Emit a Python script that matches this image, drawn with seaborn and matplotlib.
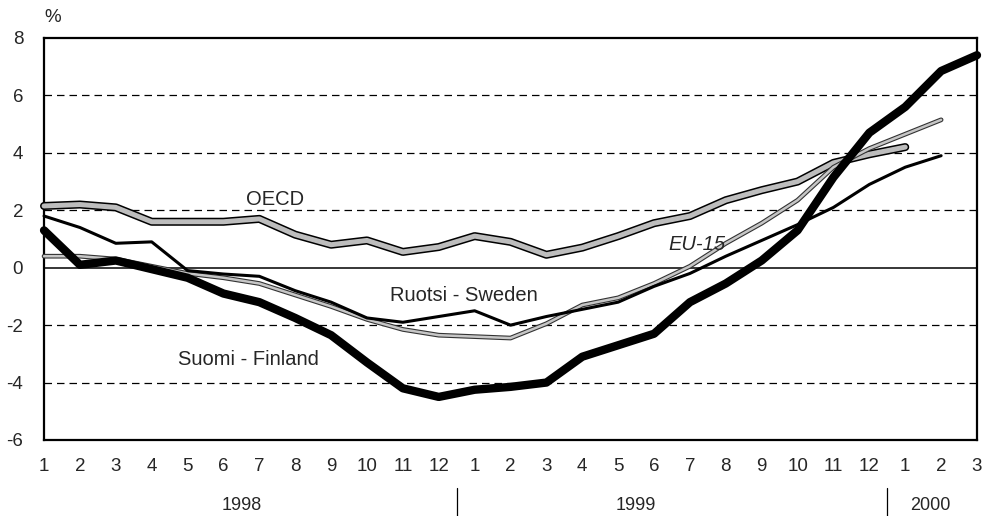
import numpy as np
import pandas as pd
import matplotlib
matplotlib.use("Agg")
import matplotlib.pyplot as plt
import matplotlib.patheffects as pe
import matplotlib.transforms as mtransforms
import seaborn as sns

# monthly data, 1998/1 .. 2000/3
months = [str(m) for m in range(1, 13)] * 2 + ["1", "2", "3"]
years = ["1998", "1999", "2000"]

oecd = [2.15, 2.2, 2.1, 1.6, 1.6, 1.6, 1.7, 1.15, 0.8, 0.95, 0.55, 0.72,
        1.1, 0.9, 0.45, 0.7, 1.1, 1.55, 1.8, 2.35, 2.7, 3.0, 3.65, 3.95,
        4.2, np.nan, np.nan]
eu15 = [0.4, 0.4, 0.3, 0.05, -0.2, -0.35, -0.55, -0.95, -1.35, -1.8, -2.15, -2.35,
        -2.4, -2.45, -1.95, -1.3, -1.05, -0.55, 0.05, 0.85, 1.55, 2.35, 3.5, 4.15,
        4.65, 5.15, np.nan]
sweden = [1.8, 1.4, 0.85, 0.9, -0.1, -0.22, -0.3, -0.8, -1.2, -1.75, -1.9, -1.7,
          -1.5, -2.0, -1.7, -1.45, -1.2, -0.65, -0.2, 0.4, 0.95, 1.5, 2.1, 2.9,
          3.5, 3.9, np.nan]
finland = [1.3, 0.1, 0.25, -0.05, -0.35, -0.9, -1.2, -1.75, -2.35, -3.3, -4.2, -4.5,
           -4.25, -4.15, -4.0, -3.1, -2.7, -2.3, -1.2, -0.55, 0.25, 1.3, 3.15, 4.7,
           5.6, 6.85, 7.4]

df = pd.DataFrame({"t": np.arange(len(months)), "OECD": oecd, "EU-15": eu15,
                   "Ruotsi - Sweden": sweden, "Suomi - Finland": finland})

sns.set_style("white")
plt.rcParams["font.family"] = ["Liberation Sans", "DejaVu Sans"]
plt.rcParams["axes.unicode_minus"] = False

fig = plt.figure(figsize=(9.83, 5.16), dpi=100)
ax = fig.add_axes([0.0448, 0.1473, 0.9491, 0.7791])

# grid lines and zero line
for g in [-4, -2, 2, 4, 6]:
    ax.axhline(g, color="black", lw=0.9, ls=(0, (6, 4)), zorder=1)
ax.axhline(0, color="black", lw=1.1, zorder=1)

# grey outlined lines
sns.lineplot(data=df, x="t", y="OECD", ax=ax, color="#bdbdbd", lw=3.6,
             path_effects=[pe.Stroke(linewidth=5.8, foreground="black"), pe.Normal()],
             zorder=3)
sns.lineplot(data=df, x="t", y="EU-15", ax=ax, color="#c6c6c6", lw=1.8,
             path_effects=[pe.Stroke(linewidth=3.4, foreground="#333333"), pe.Normal()],
             zorder=3)
sns.lineplot(data=df, x="t", y="Ruotsi - Sweden", ax=ax, color="black", lw=2.2, zorder=4)
sns.lineplot(data=df, x="t", y="Suomi - Finland", ax=ax, color="black", lw=6.0,
             zorder=5, solid_capstyle="round")
for line in ax.lines:
    line.set_clip_on(False)

ax.set_xlim(0, len(months) - 1)
ax.set_ylim(-6, 8)
ax.set_yticks(range(-6, 9, 2))
ax.set_yticklabels([str(v) for v in range(-6, 9, 2)], fontsize=13.5)
ax.set_xticks(df["t"])
ax.set_xticklabels(months, fontsize=13.5)
ax.tick_params(axis="y", length=0, pad=15)
ax.tick_params(axis="x", direction="out", length=9, width=0.8, color="black", pad=4)
ax.set_xlabel("")
ax.set_ylabel("")
for s in ax.spines.values():
    s.set_color("black")
    s.set_linewidth(1.6)

# series labels
ax.text(6.45, 2.37, "OECD", fontsize=14.5, ha="center", va="center", zorder=6)
ax.text(18.2, 0.8, "EU-15", fontsize=14.5, ha="center", va="center",
        style="italic", zorder=6)
ax.text(11.7, -0.98, "Ruotsi - Sweden", fontsize=14.5, ha="center", va="center", zorder=6)
ax.text(5.7, -3.2, "Suomi - Finland", fontsize=14.5, ha="center", va="center", zorder=6)

ax.text(0.0, 1.05, "%", transform=ax.transAxes, fontsize=13.5, ha="left", va="center")

# year labels under the month labels
trans = mtransforms.blended_transform_factory(ax.transData, ax.transAxes)
ax.text(5.5, -0.162, years[0], transform=trans, fontsize=13, ha="center", va="center")
ax.text(16.5, -0.162, years[1], transform=trans, fontsize=13, ha="center", va="center")
ax.text(24.7, -0.162, years[2], transform=trans, fontsize=13, ha="center", va="center")
for xs in [11.5, 23.5]:
    ax.plot([xs, xs], [-0.12, -0.19], transform=trans, color="black", lw=0.9,
            clip_on=False)

fig.savefig("out.png", dpi=100)
